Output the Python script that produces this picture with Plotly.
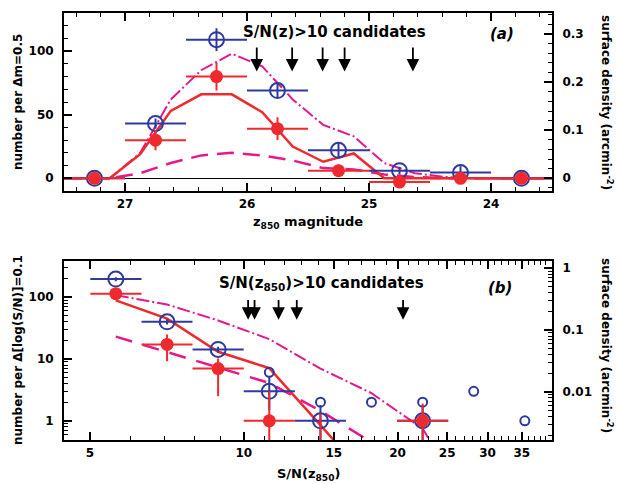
import plotly.graph_objects as go
import math

BLUE = "#2e3a9c"
RED = "#ee2a2e"
MAG = "#e3198d"
FONT = "DejaVu Sans"

# ---------------- panel (a): magnitude distribution ----------------
mag_centers = [27.25, 26.75, 26.25, 25.75, 25.25, 24.75, 24.25, 23.75]
mag_halfbin = [0.25, 0.25, 0.25, 0.25, 0.25, 0.25, 0.25, 0.25]
blue_a = [0, 43, 109, 69, 22, 6, 4.5, 0]
blue_a_err = [1, 4, 9, 6, 6, 3, 5, 1]
red_a = [0, 30, 80, 39, 6, -3, 0, 0]
red_a_err = [1, 8, 11, 9, 5, 2, 1, 1]

model_mag = [27.5, 27.125, 26.875, 26.625, 26.375, 26.125, 25.875, 25.625,
             25.375, 25.125, 24.875, 24.625, 24.375, 24.125, 23.5]
red_model_a = [0, 0, 19, 53, 66, 66, 52, 25, 13, 19.5, 0, 0, 0, 0, 0]
dashdot_a = [0, 0, 20, 62, 85, 98, 88, 62, 42, 33, 12, 4, 1, 0, 0]
dashed_a = [0, 0, 4, 12, 18, 20, 18, 14, 8, 7, 3, 1, 0, 0, 0]

arrows_a = [25.92, 25.63, 25.38, 25.20, 24.64]

# ---------------- panel (b): S/N distribution ----------------
sn_centers = [5.62, 7.08, 8.91, 11.22, 14.13, 22.39]
sn_lo = [5.01, 6.31, 7.94, 10.0, 12.59, 19.95]
sn_hi = [6.31, 7.94, 10.0, 12.59, 15.85, 25.12]
blue_b = [196, 40, 14.3, 3.0, 1.0, 1.0]
blue_b_up = [15, 4, 1.5, 2.2, 0.8, 0.8]
blue_b_dn = [15, 4, 1.5, 1.5, 0.99, 0.99]

red_b = [114, 17.2, 7.0, 1.0, 0.3, 1.0]
red_b_up = [8, 7.8, 3.2, 2.0, 1.0, 0.9]
red_b_dn = [8, 8.0, 4.5, 0.99, 0.29, 0.99]
red_b_xerr = [1, 1, 1, 1, 0, 1]

small_x = [11.22, 14.13, 17.78, 22.39, 28.18, 35.48]
small_y = [6.1, 2.0, 2.0, 2.0, 3.0, 1.0]

model_sn = [5.62, 7.08, 8.91, 11.22, 14.13, 17.78, 22.39, 28.18]
red_model_b = [89, 45, 13.1, 7.1, 0.85, 0.1, 0.05, 0.05]
dashdot_b = [108, 76, 42, 21, 7.0, 2.8, 0.75, 0.03]
dashed_b = [23, 13, 7.2, 4.1, 1.45, 0.45, 0.2, 0.1]

arrows_b = [10.2, 10.5, 11.7, 12.7, 20.5]

fig = go.Figure()

# ---- panel (a) traces
fig.add_trace(go.Scatter(x=model_mag, y=dashed_a, mode="lines",
                         line=dict(color=MAG, width=2.5, dash="17px,9px"),
                         xaxis="x", yaxis="y"))
fig.add_trace(go.Scatter(x=model_mag, y=dashdot_a, mode="lines",
                         line=dict(color=MAG, width=2, dash="13px,3px,2px,3px"),
                         xaxis="x", yaxis="y"))
fig.add_trace(go.Scatter(x=model_mag, y=red_model_a, mode="lines",
                         line=dict(color=RED, width=2.5),
                         xaxis="x", yaxis="y"))
fig.add_trace(go.Scatter(
    x=mag_centers, y=blue_a, mode="markers",
    marker=dict(symbol="circle-open", size=15, color=BLUE, line=dict(width=2, color=BLUE)),
    error_x=dict(type="data", array=mag_halfbin, color=BLUE, thickness=2, width=0),
    error_y=dict(type="data", array=blue_a_err, color=BLUE, thickness=2, width=0),
    xaxis="x", yaxis="y"))
fig.add_trace(go.Scatter(
    x=mag_centers, y=red_a, mode="markers",
    marker=dict(symbol="circle", size=13, color=RED),
    error_x=dict(type="data", array=mag_halfbin, color=RED, thickness=2, width=0),
    error_y=dict(type="data", array=red_a_err, color=RED, thickness=2, width=0),
    xaxis="x", yaxis="y"))
fig.add_trace(go.Scatter(x=[], y=[], xaxis="x", yaxis="y2", hoverinfo="skip"))

# ---- panel (b) traces
fig.add_trace(go.Scatter(x=model_sn, y=dashed_b, mode="lines",
                         line=dict(color=MAG, width=2.5, dash="17px,11px"),
                         xaxis="x2", yaxis="y3"))
fig.add_trace(go.Scatter(x=model_sn, y=dashdot_b, mode="lines",
                         line=dict(color=MAG, width=2, dash="13px,3px,2px,3px"),
                         xaxis="x2", yaxis="y3"))
fig.add_trace(go.Scatter(x=model_sn, y=red_model_b, mode="lines",
                         line=dict(color=RED, width=2.5),
                         xaxis="x2", yaxis="y3"))
fig.add_trace(go.Scatter(
    x=small_x, y=small_y, mode="markers",
    marker=dict(symbol="circle-open", size=9, color=BLUE, line=dict(width=2, color=BLUE)),
    xaxis="x2", yaxis="y3"))
fig.add_trace(go.Scatter(
    x=sn_centers, y=blue_b, mode="markers",
    marker=dict(symbol="circle-open", size=15, color=BLUE, line=dict(width=2, color=BLUE)),
    error_x=dict(type="data", symmetric=False,
                 array=[h - c for h, c in zip(sn_hi, sn_centers)],
                 arrayminus=[c - l for l, c in zip(sn_lo, sn_centers)],
                 color=BLUE, thickness=2, width=0),
    error_y=dict(type="data", symmetric=False, array=blue_b_up, arrayminus=blue_b_dn,
                 color=BLUE, thickness=2, width=0),
    xaxis="x2", yaxis="y3"))
fig.add_trace(go.Scatter(
    x=sn_centers, y=red_b, mode="markers",
    marker=dict(symbol="circle", size=13, color=RED),
    error_x=dict(type="data", symmetric=False,
                 array=[(h - c) * k for h, c, k in zip(sn_hi, sn_centers, red_b_xerr)],
                 arrayminus=[(c - l) * k for l, c, k in zip(sn_lo, sn_centers, red_b_xerr)],
                 color=RED, thickness=2, width=0),
    error_y=dict(type="data", symmetric=False, array=red_b_up, arrayminus=red_b_dn,
                 color=RED, thickness=2, width=0),
    xaxis="x2", yaxis="y3"))
fig.add_trace(go.Scatter(x=[], y=[], xaxis="x2", yaxis="y4", hoverinfo="skip"))

tickfont = dict(family=FONT, size=12, color="black", weight="bold")
titlefont = dict(family=FONT, size=12, color="black", weight="bold")

W, H = 617, 484
xdom = [64 / W, 552 / W]
ydom_a = [1 - 191 / H, 1 - 13 / H]
ydom_b = [1 - 440 / H, 1 - 260.7 / H]

common = dict(showline=True, linecolor="black", linewidth=2, showgrid=False,
              ticks="inside", tickcolor="black", tickwidth=1.5, tickfont=tickfont)

def minor_log(vals):
    return dict(tickmode="array", tickvals=vals, ticks="inside", ticklen=4,
                tickwidth=1.2, tickcolor="black")

ylog_minor = [v * m for v in (0.1, 1, 10, 100) for m in range(2, 10)]
ylog2_minor = [v * m for v in (0.001, 0.01, 0.1, 1) for m in range(2, 10)]
xlog_minor = list(range(4, 41))

fig.update_layout(
    width=W, height=H, margin=dict(l=0, r=0, t=0, b=0),
    paper_bgcolor="white", plot_bgcolor="white", showlegend=False,
    xaxis=dict(domain=xdom, anchor="y", range=[27.5, 23.5], tickvals=[27, 26, 25, 24],
               ticktext=["27", "26", "25", "24"], ticklen=8, mirror="ticks",
               ticklabelstandoff=1,
               minor=dict(dtick=0.2, ticks="inside", ticklen=4, tickwidth=1.2, tickcolor="black"),
               zeroline=False, **common),
    yaxis=dict(domain=ydom_a, anchor="x", range=[-10, 130], tickvals=[0, 50, 100],
               ticktext=["0", "50", "100"], ticklen=8, ticklabelstandoff=6,
               minor=dict(dtick=10, ticks="inside", ticklen=4, tickwidth=1.2, tickcolor="black"),
               zeroline=True, zerolinecolor="black", zerolinewidth=1, **common),
    yaxis2=dict(overlaying="y", anchor="x", side="right", range=[-10 / 378, 130 / 378],
                tickvals=[0, 0.1, 0.2, 0.3], ticktext=["0", "0.1", "0.2", "0.3"],
                ticklen=8, ticklabelstandoff=6, zeroline=False,
                minor=dict(dtick=0.02, ticks="inside", ticklen=4, tickwidth=1.2, tickcolor="black"),
                **common),
    xaxis2=dict(domain=xdom, anchor="y3", type="log",
                range=[math.log10(4.45), math.log10(40.1)],
                tickvals=[5, 10, 15, 20, 25, 30, 35],
                ticktext=["5", "10", "15", "20", "25", "30", "35"],
                ticklen=8, mirror="ticks", ticklabelstandoff=1,
                minor=minor_log(xlog_minor), zeroline=False, **common),
    yaxis3=dict(domain=ydom_b, anchor="x2", type="log", range=[-0.31, 2.59],
                tickvals=[1, 10, 100], ticktext=["1", "10", "100"],
                ticklen=8, ticklabelstandoff=6,
                minor=minor_log(ylog_minor), zeroline=False, **common),
    yaxis4=dict(overlaying="y3", anchor="x2", side="right", type="log",
                range=[-0.31 - 2.468, 2.59 - 2.468],
                tickvals=[0.01, 0.1, 1], ticktext=["0.01", "0.1", "1"],
                ticklen=8, ticklabelstandoff=6,
                minor=minor_log(ylog2_minor), zeroline=False, **common),
)

ann = []
# arrows panel (a)
for xa in arrows_a:
    ann.append(dict(x=xa, y=84, ax=xa, ay=104, xref="x", yref="y", axref="x", ayref="y",
                    text="", showarrow=True, arrowhead=2, arrowsize=1.4, arrowwidth=1.8,
                    arrowcolor="black"))
for xb in arrows_b:
    ann.append(dict(x=math.log10(xb), y=math.log10(43), ax=math.log10(xb), ay=math.log10(95),
                    xref="x2", yref="y3", axref="x2", ayref="y3",
                    text="", showarrow=True, arrowhead=2, arrowsize=1.4, arrowwidth=1.8,
                    arrowcolor="black"))

bigfont = dict(family=FONT, size=15, color="black", weight="bold")
itfont = dict(family=FONT, size=15, color="black", weight="bold", style="italic")

ann += [
    dict(x=25.28, y=115.3, xref="x", yref="y", text="S/N(z)>10 candidates",
         showarrow=False, font=bigfont, xanchor="center", yanchor="middle"),
    dict(x=23.91, y=113.8, xref="x", yref="y", text="(a)",
         showarrow=False, font=itfont, xanchor="center", yanchor="middle"),
    dict(x=1.153, y=2.215, xref="x2", yref="y3", text="S/N(z<sub>850</sub>)>10 candidates",
         showarrow=False, font=bigfont, xanchor="center", yanchor="middle"),
    dict(x=1.501, y=2.155, xref="x2", yref="y3", text="(b)",
         showarrow=False, font=itfont, xanchor="center", yanchor="middle"),
    # axis titles
    dict(x=308 / W, y=1 - 222 / H, xref="paper", yref="paper", text="z<sub>850</sub> magnitude",
         showarrow=False, font=dict(titlefont, size=13), xanchor="center", yanchor="middle"),
    dict(x=308 / W, y=1 - 474 / H, xref="paper", yref="paper", text="S/N(z<sub>850</sub>)",
         showarrow=False, font=dict(titlefont, size=13), xanchor="center", yanchor="middle"),
    dict(x=18 / W, y=1 - 102 / H, xref="paper", yref="paper", text="number per Δm=0.5",
         showarrow=False, font=titlefont, textangle=-90, xanchor="center", yanchor="middle"),
    dict(x=18 / W, y=1 - 350 / H, xref="paper", yref="paper",
         text="number per Δ[log(S/N)]=0.1",
         showarrow=False, font=titlefont, textangle=-90, xanchor="center", yanchor="middle"),
    dict(x=607 / W, y=1 - 102 / H, xref="paper", yref="paper",
         text="surface density (arcmin<sup>-2</sup>)",
         showarrow=False, font=titlefont, textangle=90, xanchor="center", yanchor="middle"),
    dict(x=607 / W, y=1 - 345 / H, xref="paper", yref="paper",
         text="surface density (arcmin<sup>-2</sup>)",
         showarrow=False, font=titlefont, textangle=90, xanchor="center", yanchor="middle"),
]
fig.update_layout(annotations=ann)

fig.write_html("out.html")
